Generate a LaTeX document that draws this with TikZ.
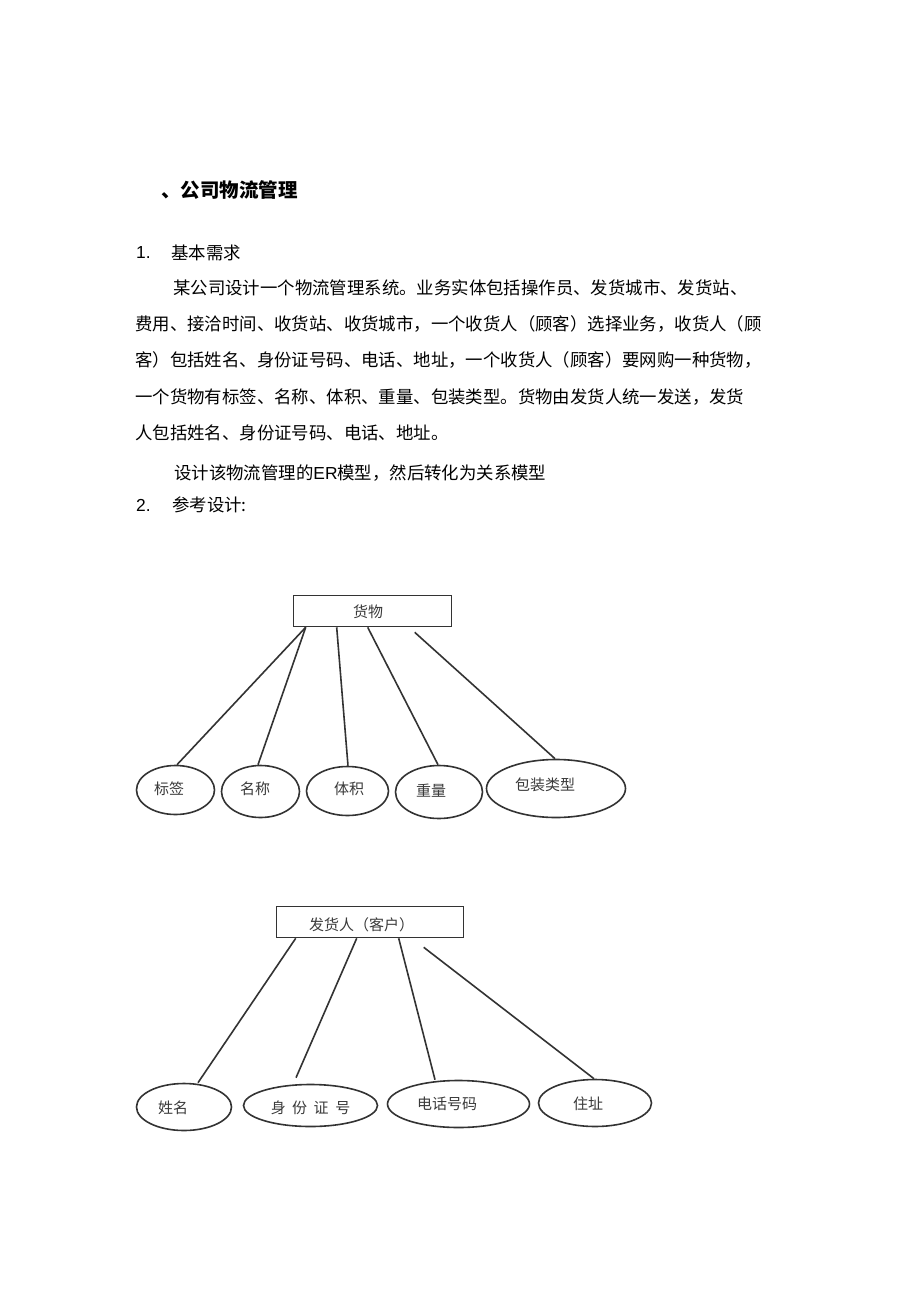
\documentclass[tikz,border=0pt]{standalone}
\usepackage{fontspec}
\setmainfont{Noto Sans CJK SC}
\newfontfamily\lat{Liberation Sans}
\usetikzlibrary{shapes.geometric}
\definecolor{ln}{HTML}{333333}
\definecolor{tx}{HTML}{3A3A3A}
\newcommand{\sh}[3]{\raisebox{#2pt}{\kern#1pt\relax #3\kern-#1pt\relax}}
\begin{document}
\begin{tikzpicture}[x=1pt,y=-1pt,
  body/.style={anchor=west,inner sep=0pt,text=black,font=\fontsize{17.4pt}{20pt}\selectfont},
  head/.style={anchor=west,inner sep=0pt,text=black,font=\fontsize{19.5pt}{22pt}\selectfont\bfseries},
  ent/.style={draw=ln,line width=1.6pt,rectangle,inner sep=0pt,text=tx,
    text height=12.5pt,text depth=1.5pt,font=\fontsize{15pt}{18pt}\selectfont},
  attr/.style={draw=ln,line width=1.6pt,ellipse,inner sep=0pt,text=tx,
    text height=12.5pt,text depth=1.5pt,font=\fontsize{15pt}{18pt}\selectfont},
  conn/.style={draw=ln,line width=1.6pt}]
\useasboundingbox (0,0) rectangle (920,1303);
\fill[white] (0,0) rectangle (920,1303);

% ---- text ----
\node[head] (h) at (161,190) {、公司物流管理};
\node[body] (n1) at (136,253) {\lat 1.};
\node[body] (s1) at (171,253) {基本需求};
\node[body] (p1) at (173,288) {某公司设计一个物流管理系统。业务实体包括操作员、发货城市、发货站、};
\node[body] (p2) at (135,324) {费用、接洽时间、收货站、收货城市，一个收货人（顾客）选择业务，收货人（顾};
\node[body] (p3) at (135,360) {客）包括姓名、身份证号码、电话、地址，一个收货人（顾客）要网购一种货物，};
\node[body] (p4) at (135,397) {一个货物有标签、名称、体积、重量、包装类型。货物由发货人统一发送，发货};
\node[body] (p5) at (135,433) {人包括姓名、身份证号码、电话、地址。};
\node[body] (p6) at (174,473) {设计该物流管理的{\lat ER}模型，然后转化为关系模型};
\node[body] (n2) at (136,505) {\lat 2.};
\node[body] (s2) at (172,505) {参考设计:};

% ---- ER diagram 1 ----
\node[ent, minimum width=158pt, minimum height=31pt] (goods) at (372.5,611) {\sh{-4.5}{-1}{货物}};
\node[attr, minimum width=78pt, minimum height=49pt] (e1) at (175.5,790) {\sh{-6.5}{1}{标签}};
\node[attr, minimum width=78pt, minimum height=52pt] (e2) at (260.5,791.5) {\sh{-5.5}{2.5}{名称}};
\node[attr, minimum width=82pt, minimum height=49pt] (e3) at (347.5,791) {\sh{1.5}{2}{体积}};
\node[attr, minimum width=87pt, minimum height=53pt] (e4) at (439,792) {\sh{-8}{1}{重量}};
\node[attr, minimum width=139pt, minimum height=58pt] (e5) at (556,788.5) {\sh{-11}{3.5}{包装类型}};

\draw[conn] ([xshift=13pt]goods.south west) -- ([xshift=1.5pt]e1.north);
\draw[conn] ([xshift=13pt]goods.south west) -- ([xshift=-2.5pt]e2.north);
\draw[conn] ([xshift=44pt]goods.south west) -- ([xshift=0.5pt]e3.north);
\draw[conn] ([xshift=75pt]goods.south west) -- ([xshift=-1pt]e4.north);
\draw[conn] ([xshift=122pt,yshift=-5pt]goods.south west) -- ([xshift=-1pt]e5.north);

% ---- ER diagram 2 ----
\node[ent, minimum width=187pt, minimum height=31pt] (ship) at (370,922) {\sh{-8.5}{-3}{发货人（客户）}};
\node[attr, minimum width=95pt, minimum height=47pt] (f1) at (184,1107) {\sh{-11}{-1}{姓名}};
\node[attr, minimum width=134pt, minimum height=42pt] (f2) at (310.5,1105.5) {\sh{0}{-2.5}{\spaceskip=6.5pt\relax 身 份 证 号}};
\node[attr, minimum width=142pt, minimum height=47pt] (f3) at (458.5,1104) {\sh{-11.5}{0}{电话号码}};
\node[attr, minimum width=113pt, minimum height=47pt] (f4) at (595,1103) {\sh{-7}{-1}{住址}};

\draw[conn] ([xshift=20pt]ship.south west) -- ([xshift=14pt]f1.north);
\draw[conn] ([xshift=81pt]ship.south west) -- ([xshift=-14.5pt,yshift=6pt]f2.north);
\draw[conn] ([xshift=123pt]ship.south west) -- ([xshift=-23.5pt]f3.north);
\draw[conn] ([xshift=148pt,yshift=-9pt]ship.south west) -- ([xshift=-1pt]f4.north);
\end{tikzpicture}
\end{document}
